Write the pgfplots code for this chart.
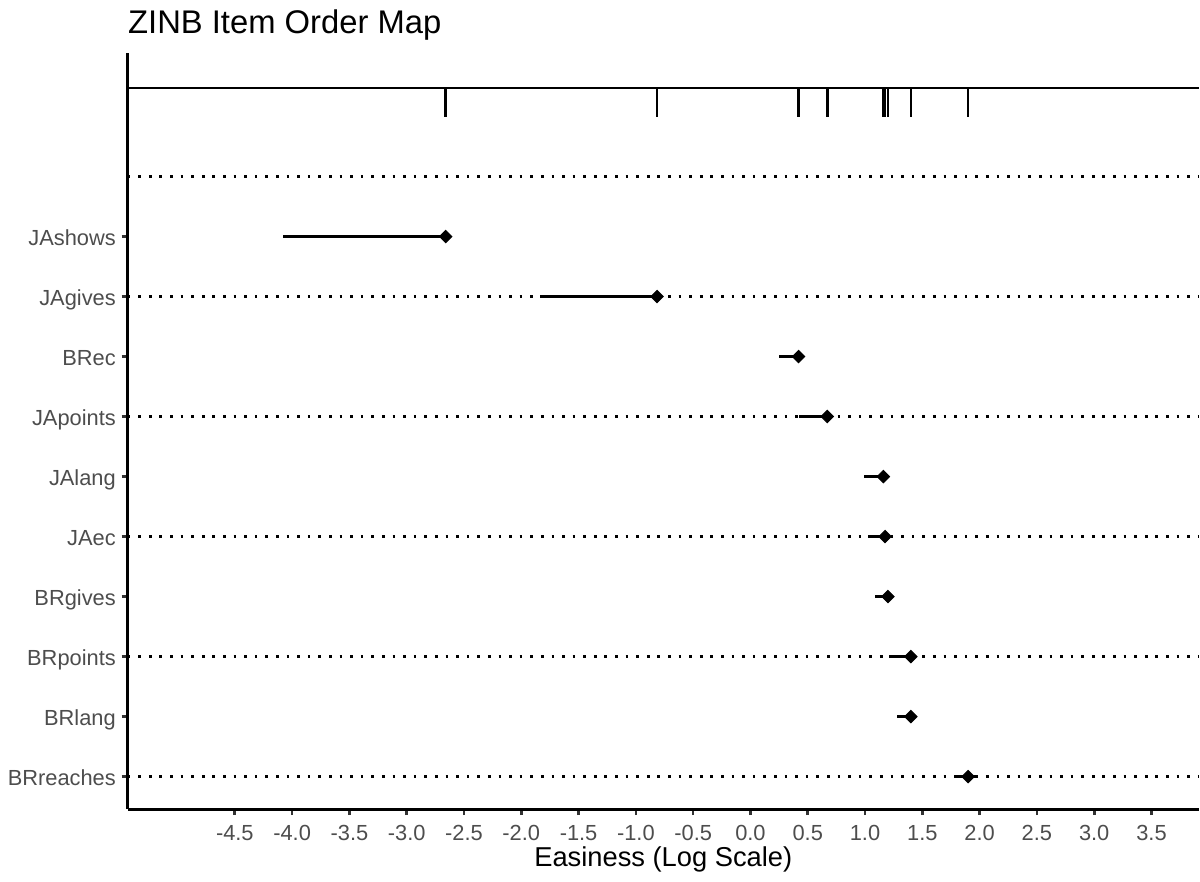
\documentclass[border=0pt]{standalone}
\usepackage{fontspec}
\setmainfont{Liberation Sans}
\usepackage{pgfplots}
\usepackage{pgfplotstable}
\pgfplotsset{compat=1.18}
\definecolor{tickgray}{HTML}{4D4D4D}
\definecolor{tickmark}{HTML}{333333}

% item, row position, estimate, interval below / above the estimate
\pgfplotstableread{
item row est em ep
BRreaches 1 1.90 0.10 0.06
BRlang 2 1.40 0.119 0
BRpoints 3 1.40 0.189 0
BRgives 4 1.20 0.111 0
JAec 5 1.175 0.147 0
JAlang 6 1.16 0.167 0
JApoints 7 0.67 0.247 0
BRec 8 0.42 0.171 0
JAgives 9 -0.815 1.022 0
JAshows 10 -2.66 1.417 0
}\items

\begin{document}
\begin{tikzpicture}
\begin{axis}[
  name=ax,
  scale only axis,
  width=431.7pt, height=304.7pt,
  xmin=-5.435, xmax=3.914,
  ymin=0.457, ymax=13.057,
  axis lines=left,
  axis line style={-, line width=1.07pt, black},
  tick align=outside,
  major tick length=2.4pt,
  tick style={color=tickmark, line width=1.07pt},
  xtick={-4.5,-4,-3.5,-3,-2.5,-2,-1.5,-1,-0.5,0,0.5,1,1.5,2,2.5,3,3.5},
  xticklabels={-4.5,-4.0,-3.5,-3.0,-2.5,-2.0,-1.5,-1.0,-0.5,0.0,0.5,1.0,1.5,2.0,2.5,3.0,3.5},
  ytick={1,2,3,4,5,6,7,8,9,10},
  yticklabels={BRreaches,BRlang,BRpoints,BRgives,JAec,JAlang,JApoints,BRec,JAgives,JAshows},
  xticklabel style={font=\fontsize{8.8}{10}\selectfont, color=tickgray, anchor=base, inner sep=0pt, yshift=-10.4pt},
  yticklabel style={font=\fontsize{8.8}{10}\selectfont, color=tickgray, anchor=base east, inner sep=0pt, xshift=-2.2pt, yshift=-3.7pt},
  xlabel={Easiness (Log Scale)},
  xlabel style={at={(axis description cs:0.5,0)}, anchor=base, inner sep=0pt, yshift=-22.9pt, font=\fontsize{11}{13}\selectfont, color=black},
]
% dotted guide lines
\pgfplotsinvokeforeach{1,3,5,7,9,11}{
  \addplot[black, line width=1.07pt, dash pattern=on 1.07pt off 3.2pt, forget plot] coordinates {(-5.435,#1) (3.914,#1)};
}
% rug baseline
\addplot[black, line width=1.07pt, forget plot] coordinates {(-5.435,12.473) (3.914,12.473)};
% rug ticks
\addplot[draw=none, mark=none, forget plot,
  error bars/.cd, y dir=plus, y explicit, error mark=none,
  error bar style={black, line width=1.07pt}]
  table[x=est, y expr=12, y error expr=0.473] {\items};
% intervals
\addplot[draw=none, mark=none, forget plot,
  error bars/.cd, x dir=both, x explicit, error mark=none,
  error bar style={black, line width=1.07pt}]
  table[x=est, y=row, x error plus=ep, x error minus=em] {\items};
% estimates
\addplot[only marks, mark=square*, mark size=1.75pt,
  mark options={rotate=45, draw=none, fill=black}]
  table[x=est, y=row] {\items};
\end{axis}
\node[anchor=base west, inner sep=0pt, yshift=8.06pt, font=\fontsize{13.2}{15}\selectfont] at (ax.north west) {ZINB Item Order Map};
\pgfresetboundingbox
\path[use as bounding box] (ax.south west) ++(-51.46pt,-29.3pt) rectangle ++(483.6pt,355.4pt);
\end{tikzpicture}
\end{document}
